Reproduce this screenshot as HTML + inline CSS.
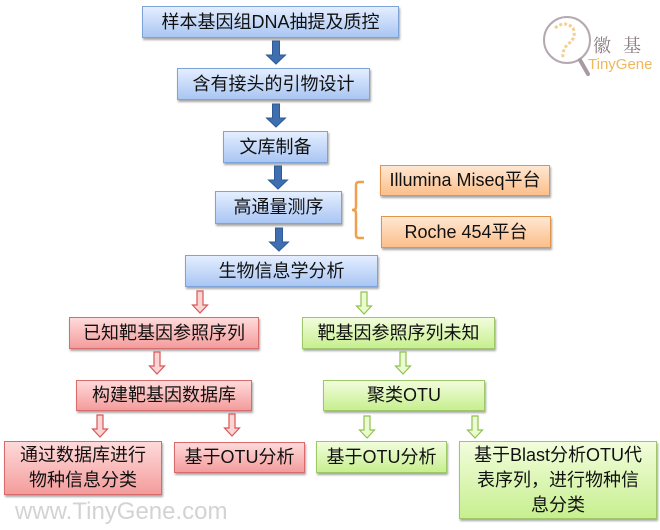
<!DOCTYPE html>
<html><head><meta charset="utf-8"><style>
body{margin:0;width:660px;height:530px;background:#fff;position:relative;overflow:hidden;font-family:"Liberation Sans","Noto Sans CJK SC",sans-serif;}
.b{position:absolute;box-sizing:border-box;display:flex;align-items:center;justify-content:center;text-align:center;font-size:18px;color:#111;line-height:25px;box-shadow:1px 2px 2px rgba(0,0,0,0.35);}
.bl{background:linear-gradient(#e4eeff,#a9c6f3);border:1px solid #7ea3d8;}
.r{background:linear-gradient(#ffdada,#f49c9c);border:1px solid #d86c6c;}
.g{background:linear-gradient(#f2fddc,#c7ef8f);border:1px solid #9cc869;}
.o{background:linear-gradient(#ffe7d2,#fbbf8a);border:1px solid #e0944f;}
svg{position:absolute;left:0;top:0;}
</style></head><body>
<div class="b bl" style="left:142px;top:6px;width:257px;height:32px;">样本基因组DNA抽提及质控</div>
<div class="b bl" style="left:177px;top:68px;width:193px;height:32px;">含有接头的引物设计</div>
<div class="b bl" style="left:223px;top:131px;width:105px;height:32px;">文库制备</div>
<div class="b bl" style="left:215px;top:191px;width:127px;height:33px;">高通量测序</div>
<div class="b bl" style="left:185px;top:255px;width:193px;height:32px;">生物信息学分析</div>
<div class="b o" style="left:380px;top:165px;width:170px;height:31px;">Illumina Miseq平台</div>
<div class="b o" style="left:381px;top:216px;width:170px;height:32px;">Roche 454平台</div>
<div class="b r" style="left:69px;top:317px;width:190px;height:32px;">已知靶基因参照序列</div>
<div class="b g" style="left:302px;top:317px;width:193px;height:32px;">靶基因参照序列未知</div>
<div class="b r" style="left:76px;top:380px;width:176px;height:31px;">构建靶基因数据库</div>
<div class="b g" style="left:323px;top:380px;width:162px;height:31px;">聚类OTU</div>
<div class="b r" style="left:4px;top:441px;width:158px;height:54px;">通过数据库进行<br>物种信息分类</div>
<div class="b r" style="left:174px;top:442px;width:131px;height:31px;">基于OTU分析</div>
<div class="b g" style="left:316px;top:441px;width:131px;height:32px;">基于OTU分析</div>
<div class="b g" style="left:459px;top:441px;width:198px;height:78px;">基于Blast分析OTU代<br>表序列，进行物种信<br>息分类</div>
<div style="position:absolute;left:15px;top:498px;font-size:24px;color:#d3d3d3;font-family:'Liberation Sans',sans-serif;">www.TinyGene.com</div>
<div style="position:absolute;left:593px;top:32px;font-size:18px;color:#8a7a82;letter-spacing:12px;font-family:'Noto Serif CJK SC',serif;">徽基</div>
<div style="position:absolute;left:588px;top:56px;font-size:15px;color:#f0b75c;">TinyGene</div>
<svg width="660" height="530">
<defs>
<g id="ba"><path d="M-3.5 0h7v14h6L0 23-9.5 14h6z" fill="#3e6fb0" stroke="#2f5a94" stroke-width="1"/></g>
<g id="ra"><path d="M-3 0h6v14h4.5L0 22-7.5 14H-3z" fill="#fbd4d4" stroke="#d85656" stroke-width="1.2"/></g>
<g id="ga"><path d="M-3 0h6v14h4.5L0 22-7.5 14H-3z" fill="#eafbcf" stroke="#8fc251" stroke-width="1.2"/></g>
</defs>
<use href="#ba" x="276" y="41"/>
<use href="#ba" x="276" y="104"/>
<use href="#ba" x="278" y="166"/>
<use href="#ba" x="279" y="228"/>
<use href="#ra" x="200" y="291"/>
<use href="#ga" x="364" y="292"/>
<use href="#ra" x="157" y="352"/>
<use href="#ga" x="403" y="352"/>
<use href="#ra" x="100" y="415"/>
<use href="#ra" x="232" y="414"/>
<use href="#ga" x="367" y="416"/>
<use href="#ga" x="475" y="416"/>
<path d="M364 182h-5q-3 0-3 3v22q0 3-4 3q4 0 4 3v22q0 3 3 3h5" fill="none" stroke="#f0a04c" stroke-width="2.5"/>
<circle cx="567" cy="40" r="23" fill="none" stroke="#b6a8b0" stroke-width="2"/>
<path d="M580 60l8 14" stroke="#a89aa2" stroke-width="4" stroke-linecap="round"/>
<path d="M555 28q10-8 18 0q4 10-5 16q-6 6-5 14" fill="none" stroke="#f3cf93" stroke-width="3" stroke-dasharray="3 2"/>
</svg>
</body></html>
